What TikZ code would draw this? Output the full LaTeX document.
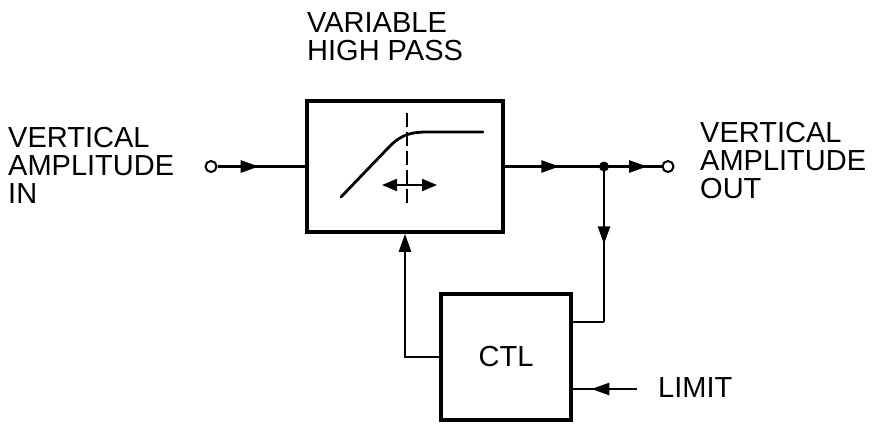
\documentclass[tikz,border=0pt]{standalone}
\usepackage{fontspec}
\setmainfont{Liberation Sans}
\usetikzlibrary{arrows.meta,decorations.markings,calc}
\tikzset{
  blk/.style={draw,line width=3.5pt,inner sep=0pt},
  wire/.style={line width=2.5pt},
  term/.style={circle,draw,line width=2pt,minimum size=11pt,inner sep=0pt,fill=white},
  lbl/.style={align=left,inner sep=0pt,font=\fontsize{29}{28}\selectfont},
  midarr/.style={postaction={decorate},decoration={markings,mark=at position #1 with {\arrow{Triangle[length=18pt,width=12pt]}}}}
}
\begin{document}
\begin{tikzpicture}[x=1pt,y=-1pt]
\useasboundingbox (0,0) rectangle (874,423);
% blocks
\node[blk,minimum width=196pt,minimum height=131pt] (hp) at (405,166.5) {};
\node[blk,minimum width=130pt,minimum height=126pt,font=\fontsize{29}{28}\selectfont] (ctl) at (506,357) {CTL};
% terminals
\node[term] (in) at (211,166.5) {};
\node[term] (out) at (668,166.5) {};
\coordinate (j) at (604,166.5);
\coordinate (lim) at (637,389);
\coordinate (ct) at (604,322);
% labels
\node[lbl,anchor=west] (tl) at (307,37) {VARIABLE\\HIGH PASS};
\node[lbl,anchor=west] (ll) at (8,165) {VERTICAL\\AMPLITUDE\\IN};
\node[lbl,anchor=west] (rl) at (700,161) {VERTICAL\\AMPLITUDE\\OUT};
\node[lbl,anchor=west] (limt) at (658,388) {LIMIT};
% connectors
\draw[wire,midarr=0.47] (in) -- (hp.west);
\draw[wire,midarr=0.55] (hp.east) -- (j);
\draw[wire,midarr=0.75] (j) -- (out);
\draw[wire,midarr=0.5] (j) -- (ct);
\draw[wire] (ct) -- (ct -| ctl.east);
\draw[wire,-{Triangle[length=18pt,width=12pt]}] (ctl.west) -| (hp.south);
\draw[wire,midarr=0.71] (lim) -- (lim -| ctl.east);
\fill (j) circle (5);
% filter symbol
\draw[line width=2.8pt,line cap=round] (341,197) -- (390,146) .. controls (402,134) and (412,132) .. (428,132) -- (483,132);
\draw[line width=2.2pt,dash pattern=on 14pt off 5pt] (407,113) -- (407,207);
\draw[line width=2.2pt,{Triangle[length=15pt,width=12pt]}-{Triangle[length=15pt,width=12pt]}] (382,185) -- (437,185);
\end{tikzpicture}
\end{document}
